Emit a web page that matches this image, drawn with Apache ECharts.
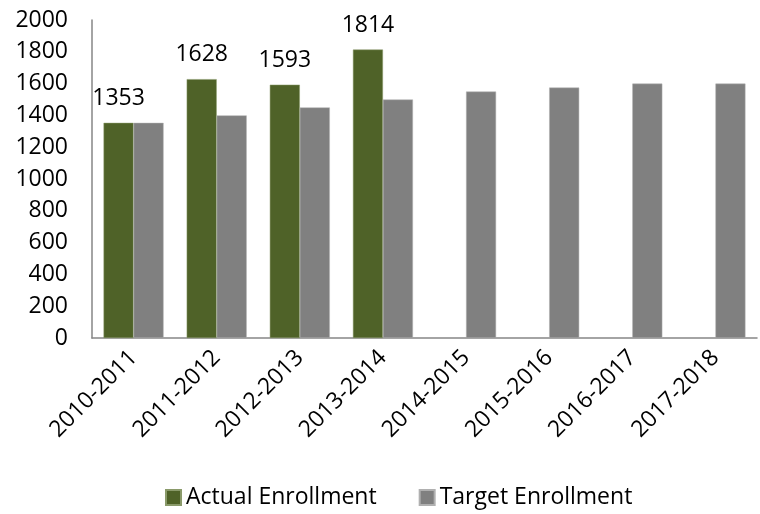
<!DOCTYPE html>
<html>
<head>
<meta charset="utf-8">
<script src="https://cdn.jsdelivr.net/npm/echarts@6/dist/echarts.min.js"></script>
<style>
  html, body { margin: 0; padding: 0; background: #fff; }
  #chart { width: 760px; height: 514px; }
</style>
</head>
<body>
<div id="chart"></div>
<script>
var years = ['2010-2011', '2011-2012', '2012-2013', '2013-2014', '2014-2015', '2015-2016', '2016-2017', '2017-2018'];
var actual = [1353, 1628, 1593, 1814, null, null, null, null];
var target = [1353, 1400, 1450, 1500, 1550, 1575, 1600, 1600];

var chart = echarts.init(document.getElementById('chart'));
var font = '"Open Sans", sans-serif';
var option = {
    animation: false,
    textStyle: { fontFamily: font, color: '#000' },
    grid: { left: 92, right: 3, top: 20, bottom: 176 },
    legend: {
        bottom: 0,
        left: 160,
        itemWidth: 15,
        itemHeight: 15,
        itemGap: 42,
        icon: 'rect',
        textStyle: { fontFamily: font, fontSize: 23, color: '#000' },
        data: ['Actual Enrollment', 'Target Enrollment']
    },
    xAxis: {
        type: 'category',
        data: years,
        axisLine: { lineStyle: { color: '#868686', width: 1.5 } },
        axisTick: { show: false },
        axisLabel: { rotate: 45, fontSize: 23, color: '#000', fontFamily: font, margin: 16 }
    },
    yAxis: {
        type: 'value',
        min: 0,
        max: 2000,
        interval: 200,
        splitLine: { show: false },
        axisLine: { show: true, lineStyle: { color: '#868686', width: 1.5 } },
        axisTick: { show: false },
        axisLabel: {
            fontSize: 23, color: '#000', fontFamily: font, margin: 24,
            formatter: function (v) { return String(v); }
        }
    },
    series: [
        {
            name: 'Actual Enrollment',
            type: 'bar',
            data: actual,
            barWidth: 30,
            barGap: '0%',
            itemStyle: { color: '#4F6228', borderColor: '#8a9a6a', borderWidth: 0.5 },
            label: { show: true, position: 'top', fontSize: 23, color: '#000', fontFamily: font, distance: 13 }
        },
        {
            name: 'Target Enrollment',
            type: 'bar',
            data: target,
            barWidth: 30,
            barGap: '0%',
            itemStyle: { color: '#808080', borderColor: '#b0b0b0', borderWidth: 0.5 }
        }
    ]
};
chart.setOption(option);
window.addEventListener('resize', chart.resize);
</script>
</body>
</html>
